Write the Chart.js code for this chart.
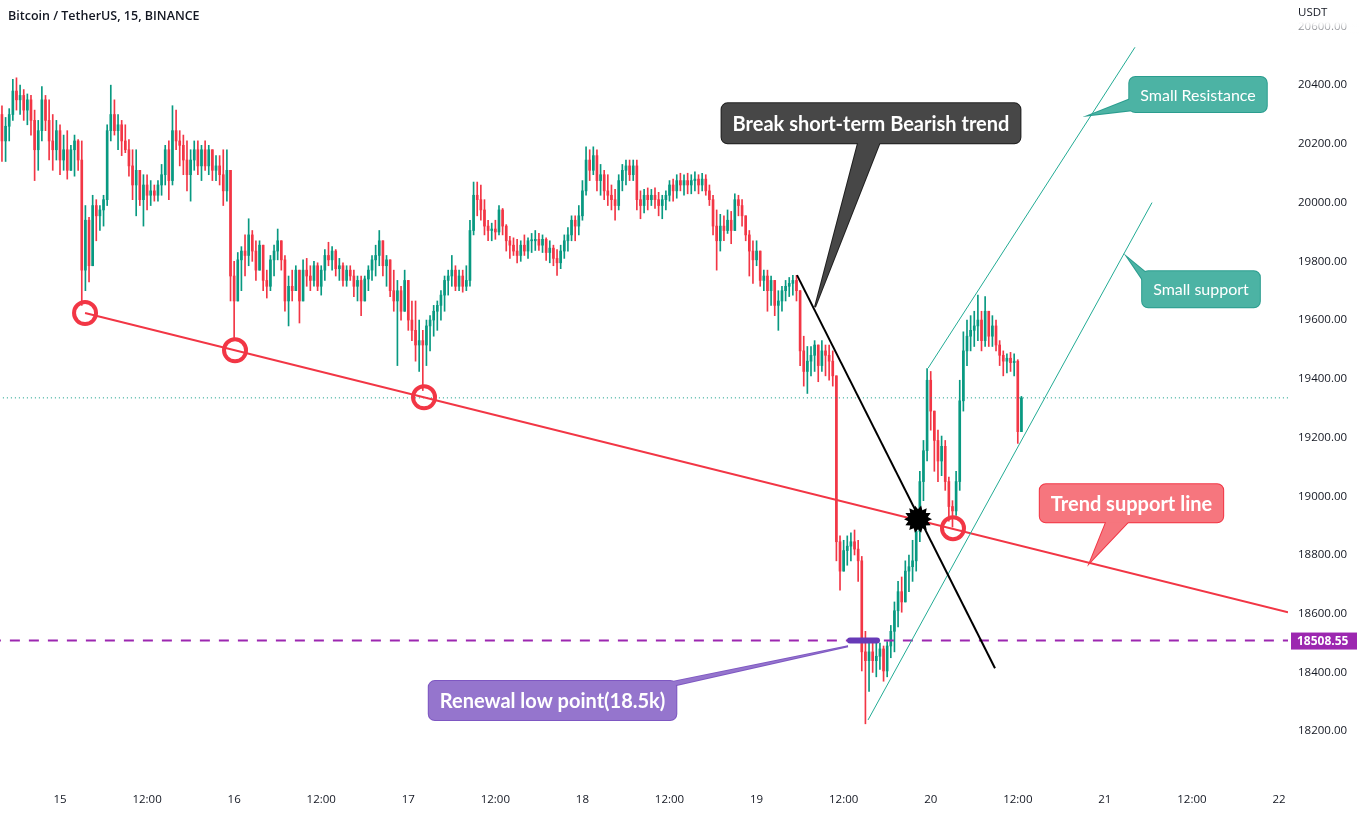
<!DOCTYPE html>
<html>
<head>
<meta charset="utf-8">
<script src="https://cdn.jsdelivr.net/npm/chart.js@4.4.1/dist/chart.umd.min.js"></script>
<style>
    html, body { margin: 0; padding: 0; background: #fff; }
    #wrap { width: 1359px; height: 814px; position: relative; }
</style>
</head>
<body>
<div id="wrap"><canvas id="btcChart"></canvas></div>
<script>
// Bougies 30 min, heures relatives au 15 oct 00:00 (première bougie : 14 oct 16:00)
const startHour = -8;
const stepHours = 0.5;
const firstOpen = 20300;

const closes = [
    20210, 20260, 20300, 20380, 20350, 20365, 20315, 20350, 20280, 20180,
    20245, 20350, 20280, 20210, 20180, 20245, 20145, 20180, 20110, 20180,
    20210, 20145, 19770, 19940, 19785, 19990, 19955, 19975, 20010, 20245,
    20300, 20245, 20265, 20210, 20180, 20125, 20060, 20110, 20010, 20060,
    20025, 20040, 20025, 20060, 20095, 20180, 20075, 20245, 20210, 20195,
    20145, 20095, 20145, 20180, 20125, 20180, 20125, 20180, 20110, 20125,
    20095, 20040, 20110, 19750, 19665, 19805, 19835, 19820, 19890, 19835,
    19770, 19855, 19735, 19715, 19805, 19835, 19870, 19805, 19665, 19715,
    19700, 19770, 19665, 19770, 19750, 19735, 19785, 19715, 19770, 19820,
    19805, 19835, 19775, 19785, 19735, 19770, 19750, 19715, 19735, 19665,
    19740, 19770, 19805, 19820, 19870, 19785, 19805, 19700, 19665, 19700,
    19630, 19735, 19600, 19565, 19515, 19530, 19515, 19580, 19600, 19630,
    19650, 19685, 19735, 19750, 19770, 19715, 19750, 19715, 19735, 19905,
    20025, 20010, 19975, 19920, 19905, 19910, 19900, 19975, 19920, 19870,
    19855, 19835, 19820, 19855, 19835, 19870, 19870, 19875, 19855, 19875,
    19830, 19845, 19810, 19795, 19835, 19870, 19890, 19940, 19920, 19955,
    20040, 20145, 20110, 20160, 20075, 20095, 20040, 20025, 20010, 19990,
    20075, 20110, 20125, 20095, 20125, 20010, 19990, 20025, 20010, 20025,
    20010, 19990, 20010, 20025, 20060, 20040, 20075, 20060, 20075, 20060,
    20075, 20080, 20060, 20080, 20040, 20010, 19920, 19870, 19920, 19905,
    19940, 19905, 20010, 19990, 19955, 19890, 19835, 19805, 19835, 19735,
    19750, 19700, 19735, 19650, 19665, 19700, 19715, 19725, 19735, 19700, 19495,
    19425, 19460, 19480, 19515, 19445, 19495, 19480, 19460, 19410, 18845,
    18745, 18815, 18830, 18845, 18820, 18780, 18470, 18440, 18470, 18440,
    18455, 18480, 18405, 18490, 18540, 18610, 18675, 18640, 18745, 18760, 18780,
    18880, 19050, 19155, 19395, 19290, 19190, 19120, 19170, 19050, 18965,
    18950, 19050, 19325, 19495, 19545, 19565, 19580, 19600, 19530, 19630,
    19545, 19580, 19515, 19480, 19460, 19470, 19455, 19460, 19220, 19335
];

const highs = [
    20330, 20290, 20320, 20420, 20425, 20400, 20385, 20370, 20365, 20315,
    20280, 20395, 20365, 20350, 20300, 20280, 20265, 20230, 20245, 20195,
    20230, 20215, 20210, 19990, 19950, 20025, 20010, 19990, 20025, 20265,
    20400, 20350, 20300, 20280, 20265, 20215, 20180, 20180, 20110, 20095,
    20095, 20075, 20060, 20075, 20130, 20195, 20210, 20330, 20315, 20245,
    20230, 20210, 20180, 20210, 20210, 20195, 20210, 20195, 20180, 20160,
    20160, 20180, 20180, 20110, 19800, 19830, 19850, 19890, 19945, 19905,
    19870, 19870, 19855, 19770, 19820, 19855, 19910, 19870, 19820, 19750,
    19770, 19785, 19770, 19805, 19810, 19785, 19800, 19795, 19785, 19840,
    19865, 19850, 19840, 19810, 19795, 19785, 19785, 19770, 19750, 19750,
    19750, 19785, 19820, 19855, 19905, 19870, 19820, 19805, 19770, 19735,
    19715, 19770, 19735, 19665, 19665, 19600, 19565, 19600, 19615, 19650,
    19665, 19700, 19750, 19770, 19820, 19785, 19770, 19770, 19785, 19940,
    20070, 20070, 20060, 20010, 19940, 19930, 19940, 19990, 19980, 19925,
    19885, 19880, 19875, 19870, 19890, 19880, 19895, 19905, 19895, 19890,
    19880, 19870, 19855, 19840, 19855, 19890, 19915, 19955, 19955, 19990,
    20075, 20190, 20180, 20190, 20180, 20130, 20110, 20095, 20060, 20045,
    20095, 20130, 20145, 20145, 20145, 20145, 20040, 20045, 20050, 20045,
    20050, 20035, 20025, 20040, 20075, 20080, 20095, 20100, 20095, 20100,
    20095, 20105, 20095, 20100, 20095, 20060, 20025, 19975, 19960, 19955,
    19975, 19970, 20030, 20025, 20010, 19955, 19905, 19870, 19870, 19835,
    19770, 19770, 19750, 19735, 19700, 19715, 19735, 19745, 19752, 19752, 19700,
    19545, 19510, 19510, 19530, 19515, 19530, 19515, 19515, 19495, 19410,
    18865, 18850, 18865, 18875, 18885, 18850, 18795, 18540, 18505, 18510,
    18505, 18500, 18490, 18505, 18560, 18640, 18710, 18725, 18780, 18800, 18850,
    18915, 19085, 19190, 19435, 19425, 19290, 19225, 19205, 19190, 19065,
    18985, 19085, 19395, 19560, 19600, 19615, 19630, 19685, 19630, 19680,
    19630, 19615, 19600, 19530, 19495, 19485, 19490, 19485, 19465, 19340
];

const lows = [
    20140, 20140, 20210, 20280, 20315, 20300, 20280, 20265, 20230, 20075,
    20110, 20210, 20245, 20145, 20110, 20145, 20095, 20110, 20080, 20110,
    20090, 20110, 19650, 19700, 19730, 19840, 19870, 19905, 19920, 19990,
    20210, 20230, 20180, 20160, 20170, 20090, 20010, 19955, 19990, 19920,
    19975, 19990, 20005, 20005, 20025, 20060, 20010, 20060, 20180, 20125,
    20095, 20040, 20005, 20110, 20095, 20075, 20110, 20095, 20075, 20075,
    20060, 19990, 20005, 19665, 19530, 19665, 19700, 19750, 19785, 19800,
    19735, 19770, 19700, 19675, 19700, 19750, 19805, 19770, 19630, 19580,
    19665, 19700, 19590, 19665, 19715, 19700, 19715, 19700, 19685, 19735,
    19785, 19770, 19750, 19735, 19715, 19715, 19735, 19680, 19665, 19615,
    19665, 19700, 19735, 19750, 19785, 19750, 19715, 19680, 19630, 19445,
    19600, 19630, 19565, 19530, 19460, 19425, 19360, 19445, 19495, 19545,
    19565, 19600, 19630, 19685, 19715, 19700, 19700, 19695, 19700, 19715,
    19890, 19955, 19940, 19890, 19870, 19870, 19875, 19890, 19890, 19835,
    19810, 19820, 19795, 19800, 19820, 19810, 19830, 19837, 19837, 19830,
    19803, 19795, 19785, 19752, 19775, 19810, 19835, 19870, 19870, 19890,
    19940, 20025, 20075, 20095, 20040, 20025, 20010, 19990, 19975, 19940,
    19975, 20040, 20060, 20075, 20075, 19975, 19945, 19965, 19975, 19990,
    19980, 19955, 19945, 19975, 20005, 20005, 20015, 20040, 20025, 20030,
    20030, 20040, 20030, 20040, 20025, 19990, 19890, 19770, 19835, 19870,
    19895, 19860, 19905, 19955, 19920, 19870, 19750, 19725, 19785, 19715,
    19700, 19630, 19650, 19615, 19565, 19630, 19665, 19680, 19685, 19665, 19445,
    19375, 19350, 19410, 19425, 19390, 19425, 19410, 19395, 19375, 18780,
    18680, 18745, 18765, 18780, 18800, 18710, 18405, 18225, 18335, 18400,
    18385, 18410, 18370, 18385, 18450, 18470, 18555, 18605, 18640, 18675, 18710,
    18745, 18845, 18985, 19120, 19225, 19085, 19050, 19070, 19020, 18915,
    18895, 18935, 19020, 19290, 19445, 19495, 19510, 19530, 19495, 19510,
    19510, 19510, 19495, 19445, 19410, 19420, 19425, 19410, 19180, 19225
];

// Axe du temps : un repère toutes les 12 h, de 0 (15 oct) à 168 (22 oct)
const timeTickLabels = ['15', '12:00', '16', '12:00', '17', '12:00', '18', '12:00',
                        '19', '12:00', '20', '12:00', '21', '12:00', '22'];

// Tracés de l'analyse (heure, prix)
const trendSupport = [[3.45, 19624], [169.24, 18605]];
const trendTouches = [[3.45, 19624], [24.12, 19497], [50.17, 19337], [123.07, 18891]];
const bearishBreak = [[101.57, 19753], [128.86, 18414]];
const breakPoint = [118.25, 18922];
const channelTop = [[119.63, 19436], [148.15, 20529]];
const channelBottom = [[111.36, 18238], [150.5, 20000]];
const renewalLow = 18508.55;
const renewalMark = [108.87, 112.6];

const upColor = '#089981';
const downColor = '#f23645';
const textColor = '#131722';

const times = closes.map((c, i) => startHour + i * stepHours);
const opens = closes.map((c, i) => i === 0 ? firstOpen : closes[i - 1]);
const candleColors = closes.map((c, i) => c >= opens[i] ? upColor : downColor);

const callouts = [
    { text: 'Break short-term Bearish trend', at: [111.77, 20270], tip: [104.05, 19644],
      fill: '#474747', stroke: '#1f1f1f', font: 'bold 20px Lato', height: 40, side: 'bottom', base: 0.46, baseW: 22 },
    { text: 'Small Resistance', at: [156.84, 20368], tip: [141.95, 20298],
      fill: '#4cb3a4', stroke: '#2a9d8f', font: '16px Lato', height: 35, side: 'left', base: 0.6, baseW: 12 },
    { text: 'Small support', at: [157.25, 19705], tip: [147.19, 19811],
      fill: '#4cb3a4', stroke: '#2a9d8f', font: '16px Lato', height: 36, side: 'left', base: 0.05, baseW: 12 },
    { text: 'Trend support line', at: [147.67, 18976], tip: [141.95, 18775],
      fill: '#f6767e', stroke: '#f23645', font: 'bold 20px Lato', height: 38, side: 'bottom', base: 0.37, baseW: 24 },
    { text: 'Renewal low point(18.5k)', at: [67.88, 18304], tip: [108.6, 18489],
      fill: '#9575cd', stroke: '#7e57c2', font: 'bold 20px Lato', height: 39, side: 'top', base: 0.92, baseW: 20 }
];

function toPoints(pairs) {
    return pairs.map(p => ({ x: p[0], y: p[1] }));
}

function drawCallout(ctx, xs, ys, c) {
    const cx = xs.getPixelForValue(c.at[0]);
    const cy = ys.getPixelForValue(c.at[1]);
    const tx = xs.getPixelForValue(c.tip[0]);
    const ty = ys.getPixelForValue(c.tip[1]);
    ctx.font = c.font;
    const w = ctx.measureText(c.text).width + 22;
    const h = c.height;
    const left = cx - w / 2, top = cy - h / 2;
    let b1, b2;
    if (c.side === 'bottom') {
        const bx = left + c.base * w;
        b1 = [bx, top + h - 4]; b2 = [bx + c.baseW, top + h - 4];
    } else if (c.side === 'top') {
        const bx = left + c.base * w;
        b1 = [bx, top + 4]; b2 = [bx + c.baseW, top + 4];
    } else {
        const by = top + c.base * h;
        b1 = [left + 4, by]; b2 = [left + 4, by + c.baseW];
    }
    const tail = () => {
        ctx.beginPath();
        ctx.moveTo(b1[0], b1[1]);
        ctx.lineTo(tx, ty);
        ctx.lineTo(b2[0], b2[1]);
        ctx.closePath();
    };
    const box = () => {
        ctx.beginPath();
        ctx.roundRect(left, top, w, h, 6);
    };
    ctx.strokeStyle = c.stroke;
    ctx.lineWidth = 2;
    tail(); ctx.stroke();
    box(); ctx.stroke();
    ctx.fillStyle = c.fill;
    tail(); ctx.fill();
    box(); ctx.fill();
    ctx.fillStyle = '#ffffff';
    ctx.textAlign = 'center';
    ctx.textBaseline = 'middle';
    ctx.fillText(c.text, cx, cy + 1);
}

function drawStar(ctx, cx, cy, spikes, outer, inner) {
    ctx.beginPath();
    for (let i = 0; i < spikes * 2; i++) {
        const r = i % 2 === 0 ? outer : inner;
        const a = (Math.PI * i) / spikes;
        const px = cx + r * Math.cos(a), py = cy + r * Math.sin(a);
        if (i === 0) ctx.moveTo(px, py); else ctx.lineTo(px, py);
    }
    ctx.closePath();
    ctx.fill();
}

const overlayPlugin = {
    id: 'overlay',
    afterDatasetsDraw(chart) {
        const { ctx, chartArea } = chart;
        const xs = chart.scales.x, ys = chart.scales.y;
        ctx.save();

        // Marqueur du plus bas renouvelé
        ctx.strokeStyle = '#673ab7';
        ctx.lineWidth = 6;
        ctx.lineCap = 'round';
        ctx.beginPath();
        ctx.moveTo(xs.getPixelForValue(renewalMark[0]), ys.getPixelForValue(renewalLow));
        ctx.lineTo(xs.getPixelForValue(renewalMark[1]), ys.getPixelForValue(renewalLow));
        ctx.stroke();

        // Point de cassure
        ctx.fillStyle = '#000000';
        drawStar(ctx, xs.getPixelForValue(breakPoint[0]), ys.getPixelForValue(breakPoint[1]), 14, 14, 10);

        callouts.forEach(c => drawCallout(ctx, xs, ys, c));

        // Étiquette de prix sur l'axe
        const ly = ys.getPixelForValue(renewalLow);
        ctx.fillStyle = '#9c27b0';
        ctx.fillRect(chartArea.right + 3, ly - 8, 66, 17);
        ctx.fillStyle = '#ffffff';
        ctx.font = 'bold 12px "Open Sans"';
        ctx.textAlign = 'left';
        ctx.textBaseline = 'middle';
        ctx.fillText(renewalLow.toFixed(2), chartArea.right + 9, ly + 1);

        // En-tête de l'axe des prix
        const grad = ctx.createLinearGradient(0, 0, 0, 34);
        grad.addColorStop(0, 'rgba(255,255,255,1)');
        grad.addColorStop(0.65, 'rgba(255,255,255,1)');
        grad.addColorStop(1, 'rgba(255,255,255,0.2)');
        ctx.fillStyle = grad;
        ctx.fillRect(chartArea.right + 1, 0, chart.width - chartArea.right, 34);
        ctx.fillStyle = textColor;
        ctx.font = '11.5px "Open Sans"';
        ctx.fillText('USDT', chartArea.right + 10, 13);

        // Titre
        ctx.font = '600 12.5px "Open Sans"';
        ctx.fillText('Bitcoin / TetherUS, 15, BINANCE', 8, 16);
        ctx.restore();
    }
};

const ctx = document.getElementById('btcChart').getContext('2d');
new Chart(ctx, {
    type: 'bar',
    data: {
        datasets: [{
            label: 'wicks',
            data: times.map((t, i) => ({ x: t, y: [Math.min(lows[i], opens[i], closes[i]), Math.max(highs[i], opens[i], closes[i])] })),
            backgroundColor: candleColors,
            barThickness: 1,
            grouped: false,
            order: 20
        }, {
            label: 'bodies',
            data: times.map((t, i) => ({ x: t, y: [opens[i], closes[i]] })),
            backgroundColor: candleColors,
            barThickness: 2,
            minBarLength: 1,
            grouped: false,
            order: 19
        }, {
            type: 'line',
            label: 'last price',
            data: [{ x: -20, y: closes[closes.length - 1] }, { x: 200, y: closes[closes.length - 1] }],
            borderColor: upColor,
            borderWidth: 1,
            borderDash: [1, 3],
            pointRadius: 0,
            order: 18
        }, {
            type: 'line',
            label: 'renewal low',
            data: [{ x: -20, y: renewalLow }, { x: 200, y: renewalLow }],
            borderColor: '#9c27b0',
            borderWidth: 2,
            borderDash: [10, 9],
            pointRadius: 0,
            order: 5
        }, {
            type: 'line',
            label: 'trend support',
            data: toPoints(trendSupport),
            borderColor: '#f23645',
            borderWidth: 2,
            pointRadius: 0,
            order: 4
        }, {
            type: 'line',
            label: 'bearish break',
            data: toPoints(bearishBreak),
            borderColor: '#000000',
            borderWidth: 2,
            pointRadius: 0,
            order: 3
        }, {
            type: 'line',
            label: 'channel top',
            data: toPoints(channelTop),
            borderColor: '#22ab94',
            borderWidth: 1,
            pointRadius: 0,
            order: 3
        }, {
            type: 'line',
            label: 'channel bottom',
            data: toPoints(channelBottom),
            borderColor: '#22ab94',
            borderWidth: 1,
            pointRadius: 0,
            order: 3
        }, {
            type: 'line',
            label: 'touches',
            data: toPoints(trendTouches),
            showLine: false,
            pointRadius: 11,
            pointBorderWidth: 4,
            pointBorderColor: '#f23645',
            pointBackgroundColor: 'rgba(0,0,0,0)',
            order: 1
        }]
    },
    options: {
        responsive: true,
        maintainAspectRatio: false,
        animation: false,
        devicePixelRatio: 1,
        layout: { padding: 0, autoPadding: false },
        plugins: {
            legend: { display: false },
            tooltip: { enabled: false }
        },
        scales: {
            x: {
                type: 'linear',
                min: -8.27,
                max: 169.24,
                offset: false,
                grid: { display: false, drawTicks: false },
                border: { display: false },
                ticks: {
                    stepSize: 12,
                    includeBounds: false,
                    autoSkip: false,
                    maxRotation: 0,
                    padding: 9,
                    color: textColor,
                    font: { family: 'Open Sans', size: 11.5 },
                    callback: v => timeTickLabels[Math.round(v / 12)]
                },
                afterFit: s => {
                    s.height = 30;
                    s.paddingLeft = 0;
                    s.paddingRight = 0;
                }
            },
            y: {
                type: 'linear',
                position: 'right',
                min: 18020,
                max: 20690,
                grid: { display: false, drawTicks: false },
                border: { display: false },
                ticks: {
                    stepSize: 200,
                    includeBounds: false,
                    padding: 10,
                    color: textColor,
                    font: { family: 'Open Sans', size: 11.5 },
                    callback: v => v.toFixed(2)
                },
                afterFit: s => {
                    s.width = 71;
                    s.paddingTop = 0;
                    s.paddingBottom = 0;
                }
            }
        }
    },
    plugins: [overlayPlugin]
});
</script>
</body>
</html>
